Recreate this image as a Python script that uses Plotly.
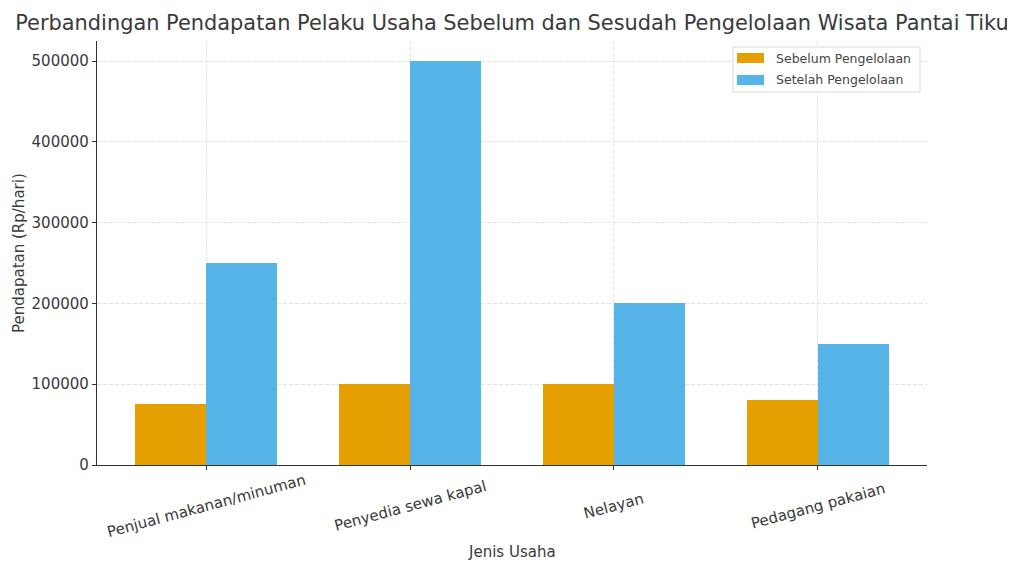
import plotly.graph_objects as go

categories = ["Penjual makanan/minuman", "Penyedia sewa kapal", "Nelayan", "Pedagang pakaian"]
sebelum = [75000, 100000, 100000, 80000]
setelah = [250000, 500000, 200000, 150000]
series_names = ["Sebelum Pengelolaan", "Setelah Pengelolaan"]
colors = ["#E69F00", "#56B4E9"]
yticks = [0, 100000, 200000, 300000, 400000, 500000]

# page has an 8px body margin in the screenshot
W, H = 1015, 563
L, T, R, B = 89, 33, 96, 106
PW, PH = W - L - R, H - T - B

x = list(range(len(categories)))
w = 0.35
fig = go.Figure()
fig.add_trace(go.Bar(x=[i - w / 2 for i in x], y=sebelum, width=w, name=series_names[0],
                     marker=dict(color=colors[0], line=dict(width=0))))
fig.add_trace(go.Bar(x=[i + w / 2 for i in x], y=setelah, width=w, name=series_names[1],
                     marker=dict(color=colors[1], line=dict(width=0))))

txt = "#3a3a3a"
fig.update_layout(
    width=W, height=H,
    margin=dict(l=L, r=R, t=T, b=B, autoexpand=False),
    paper_bgcolor="white", plot_bgcolor="white",
    font=dict(family="DejaVu Sans", size=15, color=txt),
    title=dict(text="Perbandingan Pendapatan Pelaku Usaha Sebelum dan Sesudah Pengelolaan Wisata Pantai Tiku",
               x=(L + PW / 2) / W, xanchor="center", y=1 - 15 / H, yanchor="middle",
               font=dict(size=20.9, color=txt)),
    barmode="overlay",
    bargap=0,
    showlegend=False,
)
fig.update_xaxes(
    range=[-0.535, 3.535], tickmode="array", tickvals=x, ticktext=[""] * len(x),
    showline=True, linecolor="#333333", linewidth=1.3,
    ticks="outside", ticklen=4, tickcolor="#333333",
    showgrid=True, gridcolor="#e3e3e3", griddash="4px,2px", gridwidth=1,
    zeroline=False, automargin=False,
)
fig.update_yaxes(
    range=[0, 525000], tickmode="array", tickvals=yticks, ticktext=[str(v) for v in yticks],
    showline=True, linecolor="#333333", linewidth=1.3,
    ticks="outside", ticklen=4, tickcolor="#333333",
    showgrid=True, gridcolor="#e3e3e3", griddash="4px,2px", gridwidth=1,
    tickfont=dict(size=15, color=txt), zeroline=False, automargin=False,
)

# rotated category labels, centred under each tick (matplotlib style)
for i, c in zip(x, categories):
    fig.add_annotation(x=i, y=0, xref="x", yref="paper", text=c, showarrow=False,
                       textangle=-15, xanchor="center", yanchor="middle", yshift=-41,
                       font=dict(size=15, color=txt))
# axis titles
fig.add_annotation(x=0.5, y=0, xref="paper", yref="paper", text="Jenis Usaha", showarrow=False,
                   xanchor="center", yanchor="middle", yshift=-87, font=dict(size=15, color=txt))
fig.add_annotation(x=0, y=0.5, xref="paper", yref="paper", text="Pendapatan (Rp/hari)", showarrow=False,
                   textangle=-90, xanchor="center", yanchor="middle", xshift=-78,
                   font=dict(size=15, color=txt))

# legend box (upper right)
def px_x(p):
    return (p - L) / PW
def px_y(p):
    return 1 - (p - T) / PH

fig.add_shape(type="rect", xref="paper", yref="paper",
              x0=px_x(725), x1=px_x(912), y0=px_y(84), y1=px_y(39),
              line=dict(color="#d9d9d9", width=1), fillcolor="rgba(255,255,255,0.85)", layer="above")
for k, (nm, col) in enumerate(zip(series_names, colors)):
    yc = 50 + k * 22
    fig.add_shape(type="rect", xref="paper", yref="paper",
                  x0=px_x(729), x1=px_x(756), y0=px_y(yc + 5), y1=px_y(yc - 5),
                  line=dict(width=0), fillcolor=col, layer="above")
    fig.add_annotation(x=px_x(766), y=px_y(yc), xref="paper", yref="paper", text=nm,
                       showarrow=False, xanchor="left", yanchor="middle",
                       font=dict(size=12.5, color="#444444"))

fig.write_html("out.html")
